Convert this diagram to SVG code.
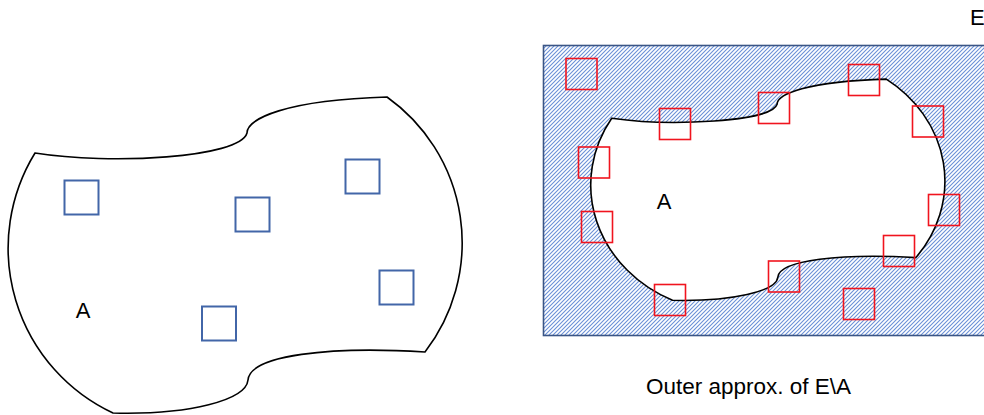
<svg xmlns="http://www.w3.org/2000/svg" width="984" height="415" viewBox="0 0 984 415">
<defs>
<pattern id="hatch" patternUnits="userSpaceOnUse" width="4" height="4">
<path d="M-1,1 L1,-1 M0,4 L4,0 M3,5 L5,3" stroke="#6a8fd6" stroke-width="1.1"/>
</pattern>
</defs>
<style>
.shape{fill:#fff;stroke:#000;stroke-width:1.6}
.bsq{fill:none;stroke:#4266a8;stroke-width:2}
.rsq{fill:none;stroke:#f0141e;stroke-width:1.6}
</style>
<rect width="984" height="415" fill="#fff"/>
<g id="left-set">
<path class="shape" d="M35,153 C110,165 240,158 247,133 C247,119 285,100 387,97 A179 179 0 0 1 425,352 C330,346 250,355 248,380 C246,400 190,415 113,413 A182 182 0 0 1 35,153 Z"/>
<text x="83" y="318" text-anchor="middle" font-family="Liberation Sans, Arial, sans-serif" font-size="22" fill="#000">A</text>
</g>
<g id="left-squares">
<rect class="bsq" x="64.5" y="180.5" width="34" height="34"/>
<rect class="bsq" x="235.5" y="197.5" width="34" height="34"/>
<rect class="bsq" x="345.5" y="159.5" width="34" height="34"/>
<rect class="bsq" x="379.5" y="270.5" width="34" height="34"/>
<rect class="bsq" x="202" y="306.5" width="34" height="34"/>
</g>
<g id="space-E">
<rect x="543.5" y="45.5" width="445" height="290" fill="url(#hatch)" stroke="#3a5585" stroke-width="1.6"/>
<text x="970" y="25" font-family="Liberation Sans, Arial, sans-serif" font-size="22" fill="#000">E</text>
</g>
<g id="right-set">
<path class="shape" d="M611.7,118.3 C670.2,126.7 771.6,121.8 777.1,104.3 C777.1,94.5 806.7,81.2 886.3,79.1 A139.6 125.3 0 0 1 915.9,257.6 C841.8,253.4 779.4,259.7 777.8,277.2 C776.3,291.2 732.6,301.7 672.5,300.3 A142 127.4 0 0 1 611.7,118.3 Z"/>
<text x="664" y="209" text-anchor="middle" font-family="Liberation Sans, Arial, sans-serif" font-size="22" fill="#000">A</text>
</g>
<g id="right-squares">
<rect class="rsq" x="566" y="58.5" width="31" height="31"/>
<rect class="rsq" x="659.5" y="108.5" width="31" height="31"/>
<rect class="rsq" x="758.5" y="92.5" width="31" height="31"/>
<rect class="rsq" x="848.5" y="64.5" width="31" height="31"/>
<rect class="rsq" x="912.5" y="106" width="31" height="31"/>
<rect class="rsq" x="578.5" y="147" width="31" height="31"/>
<rect class="rsq" x="581.5" y="211.5" width="31" height="31"/>
<rect class="rsq" x="928.5" y="194.5" width="31" height="31"/>
<rect class="rsq" x="883.5" y="235.5" width="31" height="31"/>
<rect class="rsq" x="768.5" y="261" width="31" height="31"/>
<rect class="rsq" x="654.5" y="284.5" width="31" height="31"/>
<rect class="rsq" x="843.5" y="288.5" width="31" height="31"/>
</g>
<g id="caption">
<text x="646" y="394" textLength="205" lengthAdjust="spacingAndGlyphs" font-family="Liberation Sans, Arial, sans-serif" font-size="22" fill="#000">Outer approx. of E\A</text>
</g>
</svg>
